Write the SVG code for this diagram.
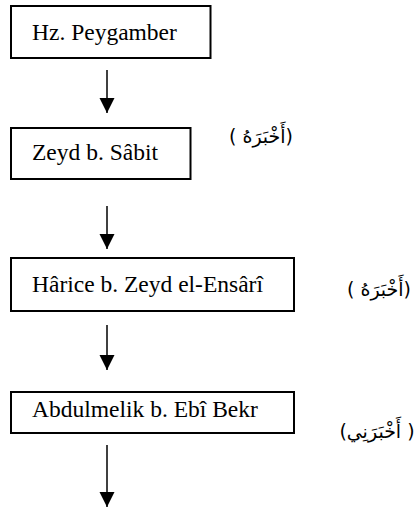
<svg xmlns="http://www.w3.org/2000/svg" width="418" height="508" viewBox="0 0 418 508">
<defs>
<marker id="ah" markerUnits="userSpaceOnUse" markerWidth="16" markerHeight="16" refX="15" refY="7.5" orient="auto">
<path d="M0,0 L15,7.5 L0,15 Z" fill="#000"/>
</marker>
<style>
.box{fill:#fff;stroke:#000;stroke-width:2}
.t{font-family:"Liberation Serif","Times New Roman",serif;font-size:23.5px;fill:#000}
.ar{font-family:"DejaVu Sans","Noto Sans",sans-serif;font-size:19px;fill:#000}
.c{stroke:#000;stroke-width:1.5;fill:none}
</style>
</defs>
<rect width="418" height="508" fill="#fff"/>
<g id="connectors">
<line class="c" x1="107" y1="70" x2="107" y2="113" marker-end="url(#ah)"/>
<line class="c" x1="107" y1="206" x2="107" y2="249" marker-end="url(#ah)"/>
<line class="c" x1="107" y1="325" x2="107" y2="370" marker-end="url(#ah)"/>
<line class="c" x1="107" y1="445" x2="107" y2="507" marker-end="url(#ah)"/>
</g>
<g id="n1">
<rect class="box" x="11" y="6" width="199.5" height="52"/>
<text class="t" x="32" y="39.5">Hz. Peygamber</text>
</g>
<g id="n2">
<rect class="box" x="11" y="128" width="179.5" height="51"/>
<text class="t" x="32" y="160">Zeyd b. Sâbit</text>
</g>
<g id="n3">
<rect class="box" x="11" y="258" width="283" height="53"/>
<text class="t" x="32" y="292">Hârice b. Zeyd el-Ensârî</text>
</g>
<g id="n4">
<rect class="box" x="11" y="392" width="283" height="41"/>
<text class="t" x="32" y="417">Abdulmelik b. Ebî Bekr</text>
</g>
<g id="labels">
<text class="ar" x="261" y="143" text-anchor="middle" direction="rtl">(أَخْبَرَهُ )</text>
<text class="ar" x="379" y="296" text-anchor="middle" direction="rtl">(أَخْبَرَهُ )</text>
<text class="ar" x="377" y="438" text-anchor="middle" direction="rtl">( أَخْبَرَنِي)</text>
</g>
</svg>
